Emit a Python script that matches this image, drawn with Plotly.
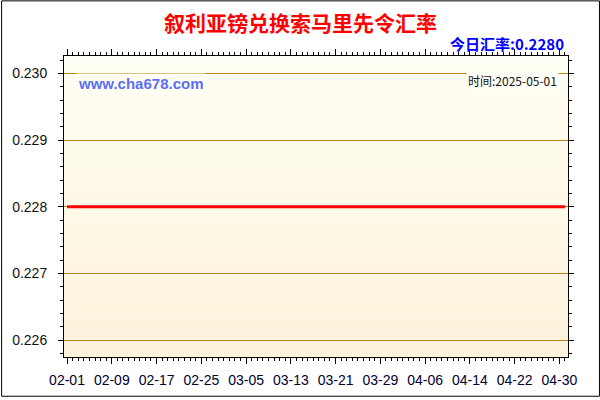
import pandas as pd
import plotly.graph_objects as go

# daily SYP -> SOS rate, 2025-02-01 .. 2025-05-01
dates = pd.date_range("2025-02-01", "2025-05-01", freq="D")
rates = [
    0.2280, 0.2280, 0.2280, 0.2280, 0.2280, 0.2280, 0.2280, 0.2280, 0.2280, 0.2280,
    0.2280, 0.2280, 0.2280, 0.2280, 0.2280, 0.2280, 0.2280, 0.2280, 0.2280, 0.2280,
    0.2280, 0.2280, 0.2280, 0.2280, 0.2280, 0.2280, 0.2280, 0.2280, 0.2280, 0.2280,
    0.2280, 0.2280, 0.2280, 0.2280, 0.2280, 0.2280, 0.2280, 0.2280, 0.2280, 0.2280,
    0.2280, 0.2280, 0.2280, 0.2280, 0.2280, 0.2280, 0.2280, 0.2280, 0.2280, 0.2280,
    0.2280, 0.2280, 0.2280, 0.2280, 0.2280, 0.2280, 0.2280, 0.2280, 0.2280, 0.2280,
    0.2280, 0.2280, 0.2280, 0.2280, 0.2280, 0.2280, 0.2280, 0.2280, 0.2280, 0.2280,
    0.2280, 0.2280, 0.2280, 0.2280, 0.2280, 0.2280, 0.2280, 0.2280, 0.2280, 0.2280,
    0.2280, 0.2280, 0.2280, 0.2280, 0.2280, 0.2280, 0.2280, 0.2280, 0.2280, 0.2280,
]
y_ticks = [0.226, 0.227, 0.228, 0.229, 0.230]

title = "叙利亚镑兑换索马里先令汇率"
today_text = "今日汇率:0.2280"
site_text = "www.cha678.com"
time_text = "时间:2025-05-01"

DAY = 86400000
# plot area in pixels
L, R, T, B = 63, 568, 56, 359
W, H = R - L, B - T

def px_x(p):
    return (p - L) / W

def px_y(p):
    return (B - p) / H

fig = go.Figure()

fig.add_trace(
    go.Scatter(
        x=dates,
        y=rates,
        mode="lines",
        line=dict(color="#FF0000", width=3),
        hoverinfo="skip",
        showlegend=False,
    )
)

# vertical gradient background, light at top, beige at bottom
top_rgb = (255, 254, 243)
bot_rgb = (253, 242, 218)
n = 40
shapes = []
for i in range(n):
    f = i / (n - 1)
    c = tuple(round(bot_rgb[k] + (top_rgb[k] - bot_rgb[k]) * f) for k in range(3))
    shapes.append(
        dict(
            type="rect", xref="paper", yref="paper",
            x0=0, x1=1, y0=i / n, y1=(i + 1) / n,
            fillcolor="rgb(%d,%d,%d)" % c, line=dict(width=0), layer="below",
        )
    )
# outer border of the picture
shapes.append(
    dict(
        type="rect", xref="paper", yref="paper",
        x0=px_x(0.5), x1=px_x(599.5), y0=px_y(398.5), y1=px_y(0.5),
        line=dict(color="black", width=1), fillcolor="rgba(0,0,0,0)",
    )
)

fig.update_xaxes(
    type="date",
    range=[dates[0] - pd.Timedelta(hours=13), dates[-1] + pd.Timedelta(hours=13)],
    tick0="2025-02-01",
    dtick=8 * DAY,
    tickformat="%m-%d",
    ticks="outside",
    ticklen=6,
    tickcolor="black",
    minor=dict(dtick=DAY, ticks="outside", ticklen=3, tickcolor="black", showgrid=False),
    showgrid=False,
    showline=True,
    linecolor="black",
    linewidth=1,
    mirror="ticks",
    ticklabelstandoff=4,
    tickfont=dict(family="Liberation Sans, Arial", size=14, color="#000033"),
    zeroline=False,
)
fig.update_yaxes(
    range=[0.225747, 0.230262],
    tickvals=y_ticks,
    tickformat=".3f",
    ticks="outside",
    ticklen=5,
    tickcolor="black",
    minor=dict(dtick=0.0002, tick0=0.226, ticks="outside", ticklen=3, tickcolor="black", showgrid=False),
    showgrid=True,
    gridcolor="#B8860B",
    gridwidth=1,
    showline=True,
    linecolor="black",
    linewidth=1,
    mirror="ticks",
    ticklabelstandoff=8,
    tickfont=dict(family="Liberation Sans, Arial", size=14, color="#111111"),
    zeroline=False,
)

fig.update_layout(
    width=600,
    height=400,
    margin=dict(l=L, r=600 - R, t=T, b=400 - B),
    paper_bgcolor="white",
    plot_bgcolor="rgba(0,0,0,0)",
    shapes=shapes,
    showlegend=False,
    annotations=[
        dict(
            text="<b>%s</b>" % title, xref="paper", yref="paper",
            x=px_x(300), y=px_y(22), xanchor="center", yanchor="middle",
            showarrow=False,
            font=dict(family="Noto Sans CJK SC", size=21, color="#FF0000"),
        ),
        dict(
            text="<b>%s</b>" % today_text, xref="paper", yref="paper",
            x=px_x(566), y=px_y(43), xanchor="right", yanchor="middle",
            showarrow=False,
            font=dict(family="Noto Sans CJK SC", size=15, color="#0000FF"),
        ),
        dict(
            text="<b>%s</b>" % site_text, xref="paper", yref="paper",
            x=px_x(75), y=px_y(84), xanchor="left", yanchor="middle",
            showarrow=False, bgcolor="#FFFFF6", borderpad=1,
            font=dict(family="Liberation Sans, Arial", size=15, color="#5B6EF5"),
        ),
        dict(
            text=time_text, xref="paper", yref="paper",
            x=px_x(559), y=px_y(81), xanchor="right", yanchor="middle",
            showarrow=False, bgcolor="#FFFFF6", borderpad=1,
            font=dict(family="Noto Sans CJK SC", size=12, color="#111111"),
        ),
    ],
)

# drop the default body margin so the figure sits at the window's corner
fig.write_html(
    "out.html",
    config={"displayModeBar": False},
    post_script="document.body.style.margin='0';",
)
